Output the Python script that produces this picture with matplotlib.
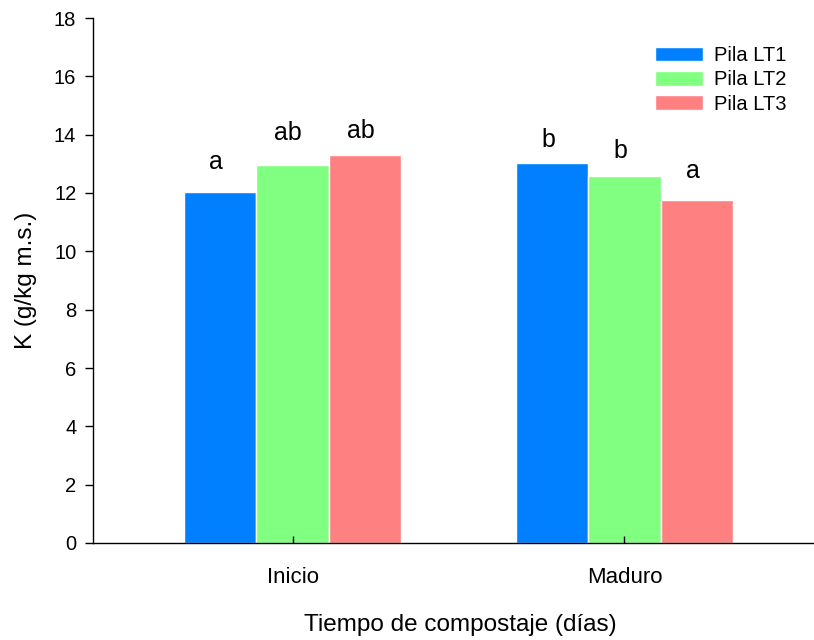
import numpy as np
import matplotlib
matplotlib.use("Agg")
import matplotlib.pyplot as plt

plt.rcParams['font.family'] = ['Liberation Sans', 'DejaVu Sans']

# datos
etapas = ['Inicio', 'Maduro']
pilas = ['Pila LT1', 'Pila LT2', 'Pila LT3']
k_lt1 = [12.03, 13.03]
k_lt2 = [12.96, 12.58]
k_lt3 = [13.30, 11.76]
letras_lt1 = ['a', 'b']
letras_lt2 = ['ab', 'b']
letras_lt3 = ['ab', 'a']
colores = ['#0080FF', '#80FF80', '#FF8080']

# separación (pt) de cada letra sobre su barra
sep_lt1 = [17, 11.5]
sep_lt2 = [18, 13]
sep_lt3 = [12, 16]

fig = plt.figure(figsize=(8.14, 6.4), dpi=100)
ax = fig.add_axes([93 / 814, 1 - 543 / 640, 1 - 93 / 814, (543 - 18) / 640])

x = np.arange(len(etapas))
w = 0.218
series = [k_lt1, k_lt2, k_lt3]
letras = [letras_lt1, letras_lt2, letras_lt3]
seps = [sep_lt1, sep_lt2, sep_lt3]
for i, (vals, lab, col, let, sp) in enumerate(zip(series, pilas, colores, letras, seps)):
    pos = x + (i - 1) * w
    ax.bar(pos, vals, width=w, color=col, edgecolor='white', linewidth=1, label=lab)
    for p, v, t, s in zip(pos, vals, let, sp):
        ax.annotate(t, (p, v), xytext=(-3, s), textcoords='offset points',
                    ha='center', va='baseline', fontsize=18)

ax.set_xlim(-0.601, 1.571)
ax.set_ylim(0, 18)
ax.set_yticks(range(0, 19, 2))
ax.set_xticks(x)
ax.set_xticklabels(etapas)
ax.tick_params(axis='y', labelsize=14.5, length=6, width=1, direction='out', pad=6)
ax.tick_params(axis='x', labelsize=16, length=5, width=1, direction='in', pad=17)
ax.spines['top'].set_visible(False)
ax.spines['right'].set_visible(False)
ax.spines['left'].set_linewidth(1)
ax.spines['bottom'].set_linewidth(1)

ax.set_xlabel('Tiempo de compostaje (días)', fontsize=17.5)
ax.xaxis.set_label_coords(0.509, -0.136)
ax.set_ylabel('K (g/kg m.s.)', fontsize=17.5, labelpad=12)

ax.legend(loc='upper left', bbox_to_anchor=(655 / 814, 1 - 46 / 640),
          bbox_transform=fig.transFigure, frameon=False, fontsize=14.5,
          handlelength=2.4, handleheight=0.75, handletextpad=0.55,
          labelspacing=0.27, borderpad=0, borderaxespad=0)

plt.savefig('out.png', dpi=100)
